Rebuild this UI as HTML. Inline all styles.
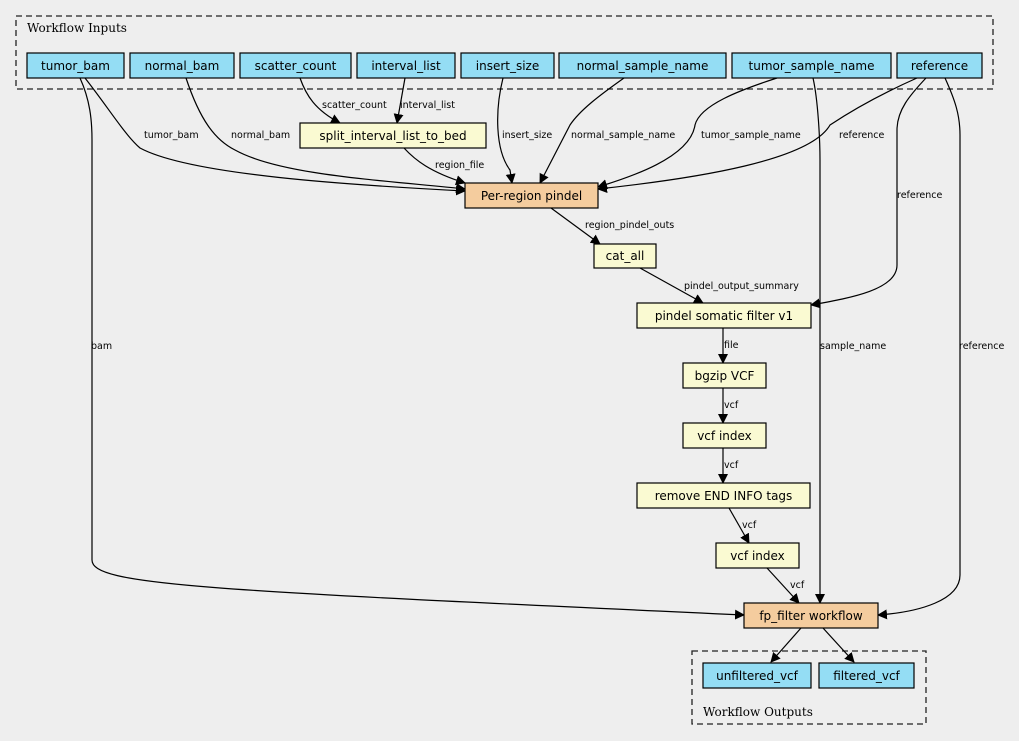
<!DOCTYPE html>
<html><head><meta charset="utf-8"><style>
html,body{margin:0;padding:0;background:#eeeeee;}
svg{display:block;}
.n{font-family:"DejaVu Sans","Liberation Sans",sans-serif;font-size:12px;fill:#000;}
.e{font-family:"DejaVu Sans","Liberation Sans",sans-serif;font-size:9.5px;fill:#000;}
.t{font-family:"DejaVu Serif","Liberation Serif",serif;font-size:12px;fill:#000;}
path.l{fill:none;stroke:#000;stroke-width:1.2;}
</style></head><body>
<svg width="1019" height="741" viewBox="0 0 1019 741" xmlns="http://www.w3.org/2000/svg">
<defs><marker id="a" viewBox="0 0 10 10" refX="9" refY="5" markerWidth="10" markerHeight="10" markerUnits="userSpaceOnUse" orient="auto"><path d="M0,0 L10,5 L0,10 z" fill="#000"/></marker></defs>
<rect width="1019" height="741" fill="#eeeeee"/>
<rect x="16" y="16" width="977" height="73" fill="none" stroke="#222" stroke-dasharray="6,4" stroke-width="1.3"/>
<text class="t" x="27" y="32">Workflow Inputs</text>
<rect x="692" y="651" width="234" height="73" fill="none" stroke="#222" stroke-dasharray="6,4" stroke-width="1.3"/>
<text class="t" x="703" y="716">Workflow Outputs</text>

<g>
<path class="l" marker-end="url(#a)" d="M85,78 C110,110 125,135 140,148 C190,175 350,185 465,191"/>
<path class="l" marker-end="url(#a)" d="M80,78 C90,100 92,120 92,140 L92,560 C92,585 200,590 744,615"/>
<path class="l" marker-end="url(#a)" d="M186,78 C200,120 215,140 235,150 C280,175 380,180 465,189"/>
<path class="l" marker-end="url(#a)" d="M300,78 C306,95 315,110 340,123"/>
<path class="l" marker-end="url(#a)" d="M405,78 L397,123"/>
<path class="l" marker-end="url(#a)" d="M404,148 C415,160 430,172 465,183"/>
<path class="l" marker-end="url(#a)" d="M503,78 C495,110 495,150 510,170 L512,183"/>
<path class="l" marker-end="url(#a)" d="M624,78 C600,95 580,110 570,125 L540,183"/>
<path class="l" marker-end="url(#a)" d="M777,78 C740,90 700,105 695,125 C690,160 620,180 598,187"/>
<path class="l" marker-end="url(#a)" d="M917,78 C890,90 860,105 830,125 C810,160 700,178 598,189"/>
<path class="l" marker-end="url(#a)" d="M926,78 C910,95 897,110 897,130 L897,265 C897,290 850,298 811,305"/>
<path class="l" marker-end="url(#a)" d="M813,78 C818,100 820,140 820,160 L820,603"/>
<path class="l" marker-end="url(#a)" d="M945,78 C955,100 960,115 960,135 L960,575 C960,600 920,612 878,615"/>
<path class="l" marker-end="url(#a)" d="M551,208 L600,244"/>
<path class="l" marker-end="url(#a)" d="M640,268 L703,303"/>
<path class="l" marker-end="url(#a)" d="M723,328 L723,363"/>
<path class="l" marker-end="url(#a)" d="M723,388 L723,423"/>
<path class="l" marker-end="url(#a)" d="M723,448 L723,483"/>
<path class="l" marker-end="url(#a)" d="M729,508 L749,543"/>
<path class="l" marker-end="url(#a)" d="M767,568 L799,603"/>
<path class="l" marker-end="url(#a)" d="M801,628 L771,662"/>
<path class="l" marker-end="url(#a)" d="M823,628 L854,662"/>
</g>

<g class="e">
<text x="144" y="138">tumor_bam</text>
<text x="231" y="138">normal_bam</text>
<text x="322" y="108">scatter_count</text>
<text x="400" y="108">interval_list</text>
<text x="435" y="168">region_file</text>
<text x="502" y="138">insert_size</text>
<text x="571" y="138">normal_sample_name</text>
<text x="701" y="138">tumor_sample_name</text>
<text x="839" y="138">reference</text>
<text x="897" y="198">reference</text>
<text x="585" y="228">region_pindel_outs</text>
<text x="684" y="289">pindel_output_summary</text>
<text x="724" y="348">file</text>
<text x="724" y="408">vcf</text>
<text x="724" y="468">vcf</text>
<text x="742" y="528">vcf</text>
<text x="790" y="588">vcf</text>
<text x="91" y="349">bam</text>
<text x="820" y="349">sample_name</text>
<text x="959" y="349">reference</text>
</g>

<g stroke="#000" stroke-width="1.2">
<g fill="#94ddf4">
<rect x="27" y="53" width="97" height="25"/>
<rect x="130" y="53" width="104" height="25"/>
<rect x="240" y="53" width="111" height="25"/>
<rect x="357" y="53" width="98" height="25"/>
<rect x="461" y="53" width="93" height="25"/>
<rect x="559" y="53" width="167" height="25"/>
<rect x="732" y="53" width="159" height="25"/>
<rect x="897" y="53" width="85" height="25"/>
<rect x="703" y="663" width="108" height="25"/>
<rect x="819" y="663" width="95" height="25"/>
</g>
<g fill="#fafad2">
<rect x="300" y="123" width="186" height="25"/>
<rect x="594" y="244" width="62" height="24"/>
<rect x="637" y="303" width="174" height="25"/>
<rect x="683" y="363" width="83" height="25"/>
<rect x="683" y="423" width="83" height="25"/>
<rect x="637" y="483" width="173" height="25"/>
<rect x="716" y="543" width="83" height="25"/>
</g>
<g fill="#f4cc9e">
<rect x="465" y="183" width="133" height="25"/>
<rect x="744" y="603" width="134" height="25"/>
</g>
</g>
<g class="n" text-anchor="middle">
<text x="75.5" y="70">tumor_bam</text>
<text x="182" y="70">normal_bam</text>
<text x="295.5" y="70">scatter_count</text>
<text x="406" y="70">interval_list</text>
<text x="507.5" y="70">insert_size</text>
<text x="642.5" y="70">normal_sample_name</text>
<text x="811.5" y="70">tumor_sample_name</text>
<text x="939.5" y="70">reference</text>
<text x="393" y="140">split_interval_list_to_bed</text>
<text x="531.5" y="200">Per-region pindel</text>
<text x="625" y="260">cat_all</text>
<text x="724" y="320">pindel somatic filter v1</text>
<text x="724.5" y="380">bgzip VCF</text>
<text x="724.5" y="440">vcf index</text>
<text x="723.5" y="500">remove END INFO tags</text>
<text x="757.5" y="560">vcf index</text>
<text x="811" y="620">fp_filter workflow</text>
<text x="757" y="680">unfiltered_vcf</text>
<text x="866.5" y="680">filtered_vcf</text>
</g>
</svg>
</body></html>
